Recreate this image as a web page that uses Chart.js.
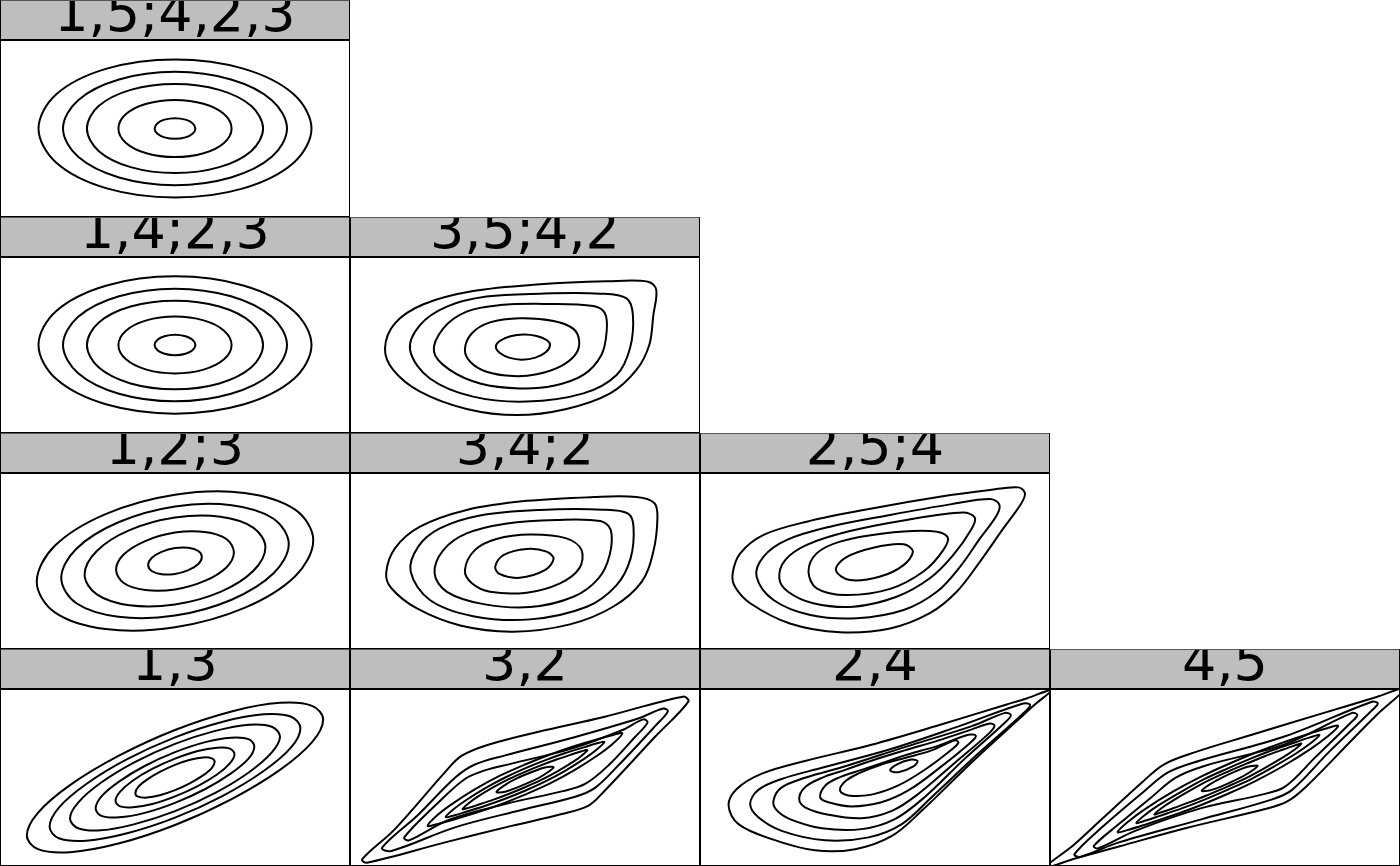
<!DOCTYPE html>
<html>
<head>
<meta charset="utf-8">
<script src="https://cdn.jsdelivr.net/npm/chart.js@4.4.0/dist/chart.umd.min.js"></script>
<style>
html,body{margin:0;padding:0;background:#fff;}
body{width:1400px;height:866px;position:relative;overflow:hidden;font-family:"DejaVu Sans",sans-serif;}
.panel{position:absolute;width:350px;}
.strip{position:absolute;left:0;top:0;width:350px;height:40px;background:#bebebe;overflow:hidden;}
.strip span{position:absolute;left:0;width:350px;text-align:center;top:-14px;font-size:54px;line-height:54px;color:#000;white-space:nowrap;}
.panel canvas{position:absolute;left:0;top:40px;}
.frame{position:absolute;left:0;top:0;right:0;bottom:0;border:1px solid #000;border-top-color:#555;pointer-events:none;}
.sep{position:absolute;left:0;top:39px;width:350px;height:0;border-top:2px solid #000;}
</style>
</head>
<body>
<script>
// ---- panel titles ----
const titles = ["1,5;4,2,3","1,4;2,3","3,5;4,2","1,2;3","3,4;2","2,5;4","1,3","3,2","2,4","4,5"];

// ---- contour lines (normal-score axes, -3..3) ----
const P_15_423 = [
 [[2.34,0],[2.03,1.17],[1.17,2.03],[0,2.34],[-1.17,2.03],[-2.03,1.17],[-2.34,0],[-2.03,-1.17],[-1.17,-2.03],[0,-2.34],[1.17,-2.03],[2.03,-1.17]],
 [[1.92,0],[1.66,0.96],[0.96,1.66],[0,1.92],[-0.96,1.66],[-1.66,0.96],[-1.92,0],[-1.66,-0.96],[-0.96,-1.66],[0,-1.92],[0.96,-1.66],[1.66,-0.96]],
 [[1.51,0],[1.31,0.76],[0.76,1.31],[0,1.51],[-0.76,1.31],[-1.31,0.76],[-1.51,0],[-1.31,-0.76],[-0.76,-1.31],[0,-1.51],[0.76,-1.31],[1.31,-0.76]],
 [[0.97,0],[0.84,0.49],[0.49,0.84],[0,0.97],[-0.49,0.84],[-0.84,0.49],[-0.97,0],[-0.84,-0.49],[-0.49,-0.84],[0,-0.97],[0.49,-0.84],[0.84,-0.49]],
 [[0.35,0],[0.30,0.18],[0.18,0.30],[0,0.35],[-0.18,0.30],[-0.30,0.18],[-0.35,0],[-0.30,-0.18],[-0.18,-0.30],[0,-0.35],[0.18,-0.30],[0.30,-0.18]]
];
const P_14_23 = [
 [[2.34,0],[2.03,1.17],[1.17,2.03],[0,2.34],[-1.17,2.03],[-2.03,1.17],[-2.34,0],[-2.03,-1.17],[-1.17,-2.03],[0,-2.34],[1.17,-2.03],[2.03,-1.17]],
 [[1.92,0],[1.66,0.96],[0.96,1.66],[0,1.92],[-0.96,1.66],[-1.66,0.96],[-1.92,0],[-1.66,-0.96],[-0.96,-1.66],[0,-1.92],[0.96,-1.66],[1.66,-0.96]],
 [[1.51,0],[1.31,0.76],[0.76,1.31],[0,1.51],[-0.76,1.31],[-1.31,0.76],[-1.51,0],[-1.31,-0.76],[-0.76,-1.31],[0,-1.51],[0.76,-1.31],[1.31,-0.76]],
 [[0.97,0],[0.84,0.49],[0.49,0.84],[0,0.97],[-0.49,0.84],[-0.84,0.49],[-0.97,0],[-0.84,-0.49],[-0.49,-0.84],[0,-0.97],[0.49,-0.84],[0.84,-0.49]],
 [[0.35,0],[0.30,0.18],[0.18,0.30],[0,0.35],[-0.18,0.30],[-0.30,0.18],[-0.35,0],[-0.30,-0.18],[-0.18,-0.30],[0,-0.35],[0.18,-0.30],[0.30,-0.18]]
];
const P_35_42 = [
 [[-2.40,-0.11],[-2.23,0.74],[-1.74,1.39],[-0.89,1.84],[0.26,2.07],[1.40,2.17],[2.11,2.16],[2.25,1.88],[2.20,1.02],[2.13,0.0],[1.91,-0.85],[1.46,-1.65],[0.71,-2.18],[-0.14,-2.39],[-1.0,-2.18],[-1.80,-1.59],[-2.26,-0.85]],
 [[-1.97,-0.17],[-1.80,0.68],[-1.34,1.31],[-0.66,1.65],[0.26,1.75],[1.29,1.75],[1.74,1.59],[1.85,1.02],[1.80,-0.11],[1.57,-1.02],[1.00,-1.65],[0.03,-1.93],[-0.89,-1.76],[-1.63,-1.14]],
 [[-1.56,-0.23],[-1.40,0.57],[-1.00,1.14],[-0.43,1.36],[0.37,1.40],[1.17,1.33],[1.37,1.08],[1.40,0.46],[1.31,-0.34],[1.00,-1.02],[0.49,-1.39],[-0.09,-1.48],[-0.77,-1.31],[-1.29,-0.85]],
 [[-1.03,-0.14],[-0.91,0.40],[-0.60,0.77],[-0.09,0.91],[0.49,0.82],[0.83,0.55],[0.93,0.11],[0.86,-0.34],[0.60,-0.74],[0.20,-1.00],[-0.20,-1.06],[-0.66,-0.91],[-0.94,-0.57]],
 [[0.43,0.0],[0.37,0.17],[0.2,0.31],[-0.02,0.36],[-0.25,0.30],[-0.43,0.14],[-0.50,-0.06],[-0.43,-0.27],[-0.26,-0.44],[-0.05,-0.50],[0.18,-0.43],[0.36,-0.24]]
];
const P_12_3 = [
 [[2.37,0.71],[2.06,1.75],[1.19,2.32],[0,2.26],[-1.19,1.60],[-2.06,0.52],[-2.37,-0.71],[-2.06,-1.75],[-1.19,-2.32],[0,-2.26],[1.19,-1.60],[2.06,-0.52]],
 [[1.95,0.58],[1.69,1.44],[0.97,1.90],[0,1.86],[-0.97,1.32],[-1.69,0.42],[-1.95,-0.58],[-1.69,-1.44],[-0.97,-1.90],[0,-1.86],[0.97,-1.32],[1.69,-0.42]],
 [[1.55,0.47],[1.34,1.14],[0.78,1.51],[0,1.48],[-0.78,1.05],[-1.34,0.34],[-1.55,-0.47],[-1.34,-1.14],[-0.78,-1.51],[0,-1.48],[0.78,-1.05],[1.34,-0.34]],
 [[1.01,0.30],[0.88,0.75],[0.51,0.99],[0,0.97],[-0.51,0.68],[-0.88,0.22],[-1.01,-0.30],[-0.88,-0.75],[-0.51,-0.99],[0,-0.97],[0.51,-0.68],[0.88,-0.22]],
 [[0.46,0.14],[0.40,0.34],[0.23,0.45],[0,0.44],[-0.23,0.31],[-0.40,0.10],[-0.46,-0.14],[-0.40,-0.34],[-0.23,-0.45],[0,-0.44],[0.23,-0.31],[0.40,-0.10]]
];
const P_34_2 = [
 [[-2.38,-0.42],[-2.23,0.43],[-1.80,1.17],[-1.0,1.74],[0.03,2.05],[1.17,2.18],[1.91,2.18],[2.22,1.97],[2.27,1.45],[2.20,0.32],[2.0,-0.71],[1.51,-1.56],[0.77,-2.16],[-0.20,-2.41],[-1.11,-2.20],[-1.86,-1.61],[-2.29,-0.93]],
 [[-1.96,-0.36],[-1.83,0.49],[-1.46,1.11],[-0.77,1.55],[0.26,1.74],[1.34,1.75],[1.76,1.62],[1.86,1.17],[1.81,0.09],[1.57,-0.82],[1.06,-1.56],[0.09,-1.99],[-0.89,-1.88],[-1.63,-1.33]],
 [[-1.55,-0.42],[-1.40,0.37],[-1.0,0.94],[-0.31,1.28],[0.54,1.40],[1.29,1.36],[1.47,1.06],[1.45,0.20],[1.26,-0.59],[0.83,-1.22],[0.09,-1.57],[-0.71,-1.47],[-1.34,-1.05]],
 [[-1.03,-0.31],[-0.86,0.37],[-0.49,0.75],[0.09,0.90],[0.71,0.77],[0.97,0.37],[0.93,-0.25],[0.60,-0.76],[0.03,-1.08],[-0.60,-1.05],[-0.91,-0.76]],
 [[-0.51,-0.19],[-0.37,0.20],[0.03,0.41],[0.37,0.32],[0.49,0.07],[0.34,-0.31],[-0.09,-0.57],[-0.43,-0.45]]
];
const P_25_4 = [
 [[-2.44,-0.42],[-2.31,0.26],[-1.91,0.89],[-1.17,1.34],[-0.03,1.80],[1.11,2.19],[1.97,2.42],[2.46,2.51],[2.57,2.31],[2.51,1.97],[2.20,1.11],[1.80,-0.02],[1.40,-1.05],[0.94,-1.78],[0.26,-2.30],[-0.60,-2.43],[-1.46,-2.13],[-2.14,-1.44],[-2.40,-0.88]],
 [[-2.03,-0.53],[-1.91,0.15],[-1.51,0.72],[-0.77,1.17],[0.26,1.57],[1.29,1.93],[1.97,2.11],[2.13,1.93],[2.09,1.57],[1.80,0.77],[1.46,-0.19],[1.06,-1.05],[0.49,-1.67],[-0.31,-1.95],[-1.11,-1.84],[-1.74,-1.33]],
 [[-1.64,-0.59],[-1.54,0.03],[-1.17,0.55],[-0.43,1.02],[0.54,1.40],[1.51,1.65],[1.71,1.48],[1.66,1.11],[1.34,0.20],[0.94,-0.59],[0.37,-1.22],[-0.37,-1.56],[-1.06,-1.44],[-1.49,-1.05]],
 [[-1.14,-0.36],[-1.0,0.26],[-0.60,0.66],[0.14,0.94],[0.94,1.02],[1.24,0.83],[1.17,0.37],[0.83,-0.36],[0.26,-0.95],[-0.49,-1.16],[-1.0,-0.93]],
 [[-0.67,-0.31],[-0.51,0.11],[-0.03,0.45],[0.49,0.57],[0.65,0.32],[0.49,-0.14],[0.09,-0.53],[-0.43,-0.65]]
];
const P_13 = [
 [[2.54,1.97],[2.35,2.43],[1.80,2.53],[0.97,2.24],[0,1.61],[-0.97,0.73],[-1.80,-0.26],[-2.35,-1.20],[-2.54,-1.97],[-2.35,-2.43],[-1.80,-2.53],[-0.97,-2.24],[0,-1.61],[0.97,-0.73],[1.80,0.26],[2.35,1.20]],
 [[2.15,1.67],[1.99,2.06],[1.52,2.14],[0.82,1.89],[0,1.36],[-0.82,0.62],[-1.52,-0.22],[-1.99,-1.02],[-2.15,-1.67],[-1.99,-2.06],[-1.52,-2.14],[-0.82,-1.89],[0,-1.36],[0.82,-0.62],[1.52,0.22],[1.99,1.02]],
 [[1.80,1.39],[1.66,1.72],[1.27,1.79],[0.69,1.58],[0,1.14],[-0.69,0.52],[-1.27,-0.18],[-1.66,-0.85],[-1.80,-1.39],[-1.66,-1.72],[-1.27,-1.79],[-0.69,-1.58],[0,-1.14],[0.69,-0.52],[1.27,0.18],[1.66,0.85]],
 [[1.36,1.05],[1.26,1.30],[0.96,1.35],[0.52,1.20],[0,0.86],[-0.52,0.39],[-0.96,-0.14],[-1.26,-0.64],[-1.36,-1.05],[-1.26,-1.30],[-0.96,-1.35],[-0.52,-1.20],[0,-0.86],[0.52,-0.39],[0.96,0.14],[1.26,0.64]],
 [[1.02,0.79],[0.94,0.98],[0.72,1.01],[0.39,0.90],[0,0.64],[-0.39,0.29],[-0.72,-0.10],[-0.94,-0.48],[-1.02,-0.79],[-0.94,-0.98],[-0.72,-1.01],[-0.39,-0.90],[0,-0.64],[0.39,-0.29],[0.72,0.10],[0.94,0.48]],
 [[0.68,0.53],[0.63,0.65],[0.48,0.68],[0.26,0.60],[0,0.43],[-0.26,0.19],[-0.48,-0.07],[-0.63,-0.32],[-0.68,-0.53],[-0.63,-0.65],[-0.48,-0.68],[-0.26,-0.60],[0,-0.43],[0.26,-0.19],[0.48,0.07],[0.63,0.32]]
];
const P_32 = [
 [[-2.79,-2.77],[-2.23,-1.75],[-1.37,0.18],[-1.09,0.73],[-0.63,1.11],[0.23,1.55],[1.37,2.06],[2.71,2.74],[2.80,2.57],[2.23,1.38],[1.37,-0.44],[1.09,-0.95],[0.63,-1.24],[-0.23,-1.64],[-1.37,-2.20],[-2.71,-2.89]],
 [[-2.45,-2.38],[-1.83,-1.26],[-1.20,-0.01],[-0.86,0.44],[-0.34,0.75],[0.80,1.34],[1.94,2.0],[2.37,2.34],[2.45,2.24],[2.23,1.74],[1.60,0.41],[1.20,-0.35],[0.86,-0.65],[-0.06,-1.10],[-1.20,-1.69],[-2.29,-2.49]],
 [[-2.07,-2.03],[-1.54,-0.95],[-1.03,-0.05],[-0.69,0.24],[-0.23,0.47],[0.80,0.98],[1.66,1.60],[2.03,1.97],[2.10,1.86],[1.89,1.38],[1.43,0.41],[1.03,-0.22],[0.63,-0.47],[-0.34,-0.90],[-1.31,-1.44],[-1.99,-2.13]],
 [[-1.67,-1.64],[-1.51,-1.29],[-1.26,-0.91],[-0.84,-0.38],[-0.42,0.07],[0,0.44],[0.42,0.77],[0.84,1.06],[1.26,1.31],[1.51,1.44],[1.67,1.50],[1.51,1.15],[1.26,0.77],[0.84,0.24],[0.42,-0.21],[0,-0.58],[-0.42,-0.91],[-0.84,-1.20],[-1.26,-1.45],[-1.51,-1.58]],
 [[-1.36,-1.34],[-1.22,-1.07],[-1.02,-0.78],[-0.68,-0.36],[-0.34,0.00],[0,0.31],[0.34,0.58],[0.68,0.82],[1.02,1.03],[1.22,1.15],[1.36,1.20],[1.22,0.93],[1.02,0.64],[0.68,0.22],[0.34,-0.14],[0,-0.45],[-0.34,-0.72],[-0.68,-0.96],[-1.02,-1.17],[-1.22,-1.29]],
 [[-1.07,-1.07],[-0.97,-0.88],[-0.81,-0.65],[-0.54,-0.33],[-0.27,-0.05],[0,0.19],[0.27,0.41],[0.54,0.61],[0.81,0.79],[0.97,0.89],[1.07,0.93],[0.97,0.74],[0.81,0.51],[0.54,0.19],[0.27,-0.09],[0,-0.33],[-0.27,-0.55],[-0.54,-0.75],[-0.81,-0.93],[-0.97,-1.03]],
 [[-0.49,-0.49],[-0.34,-0.25],[-0.15,-0.04],[0.15,0.21],[0.34,0.34],[0.49,0.35],[0.34,0.11],[0.15,-0.10],[-0.15,-0.35],[-0.34,-0.48]]
];
const P_24 = [
 [[-2.51,-0.95],[-2.37,-0.39],[-1.94,0.13],[-1.20,0.56],[-0.06,1.11],[1.09,1.77],[2.23,2.46],[2.6,2.68],[3.03,2.97],[2.75,2.49],[2.51,2.06],[1.66,0.52],[0.80,-1.13],[0.29,-1.98],[-0.34,-2.43],[-1.03,-2.47],[-1.77,-2.09],[-2.34,-1.58]],
 [[-2.14,-0.90],[-2.0,-0.42],[-1.60,-0.05],[-0.91,0.33],[0.23,0.94],[1.37,1.69],[2.54,2.51],[2.66,2.46],[2.54,2.17],[1.77,0.81],[0.97,-0.67],[0.46,-1.58],[-0.11,-2.03],[-0.86,-2.13],[-1.60,-1.81],[-2.0,-1.35]],
 [[-1.74,-0.78],[-1.61,-0.35],[-1.20,-0.01],[-0.51,0.38],[0.51,1.03],[1.66,1.74],[2.23,2.19],[2.33,2.11],[2.22,1.85],[1.54,0.64],[0.86,-0.65],[0.34,-1.41],[-0.23,-1.75],[-0.91,-1.72],[-1.46,-1.41],[-1.69,-1.10]],
 [[-1.30,-0.73],[-1.20,-0.33],[-0.91,-0.01],[-0.51,0.26],[-0.06,0.57],[0.51,0.92],[1.09,1.26],[1.66,1.63],[1.97,1.83],[2.05,1.75],[1.94,1.47],[1.37,0.50],[0.74,-0.56],[0.29,-1.13],[-0.23,-1.38],[-0.80,-1.26],[-1.20,-1.01]],
 [[-0.94,-0.67],[-0.85,-0.27],[-0.63,-0.01],[-0.23,0.26],[0.23,0.56],[0.51,0.75],[1.09,1.08],[1.60,1.45],[1.73,1.41],[1.63,1.17],[1.09,0.30],[0.57,-0.44],[0.11,-0.84],[-0.40,-0.98],[-0.80,-0.84]],
 [[-0.60,-0.44],[-0.51,-0.13],[-0.29,0.13],[0.11,0.44],[0.51,0.66],[0.97,0.92],[1.37,1.26],[1.43,1.18],[1.31,0.94],[0.86,0.27],[0.40,-0.27],[-0.06,-0.58],[-0.46,-0.61]],
 [[0.26,0.24],[0.37,0.44],[0.60,0.60],[0.73,0.56],[0.66,0.38],[0.40,0.18]]
];
const P_45 = [
 [[-3.08,-3.05],[-2.6,-2.30],[-2.11,-1.41],[-1.42,-0.16],[-1.05,0.44],[-0.51,0.86],[0.46,1.45],[1.61,2.14],[2.6,2.73],[3.08,3.02],[2.6,2.12],[2.18,1.28],[1.38,-0.33],[1.06,-0.82],[0.69,-1.07],[-0.68,-1.72],[-1.82,-2.34],[-2.6,-2.76]],
 [[-2.58,-2.60],[-2.11,-1.69],[-1.37,-0.44],[-0.97,0.18],[-0.45,0.56],[1.03,1.40],[2.52,2.57],[2.62,2.51],[2.52,2.28],[1.78,0.86],[1.15,-0.42],[0.81,-0.74],[-0.39,-1.41],[-1.82,-2.20],[-2.48,-2.69]],
 [[-2.25,-2.32],[-1.82,-1.58],[-1.25,-0.65],[-0.85,-0.01],[-0.34,0.40],[1.03,1.13],[2.18,2.19],[2.27,2.11],[2.15,1.85],[1.55,0.69],[1.03,-0.31],[0.63,-0.58],[-0.39,-1.03],[-1.54,-1.81],[-2.17,-2.40]],
 [[-1.84,-1.85],[-1.65,-1.48],[-1.37,-1.07],[-0.90,-0.49],[-0.42,0.02],[0.05,0.45],[0.52,0.84],[1.00,1.19],[1.47,1.50],[1.75,1.67],[1.94,1.75],[1.75,1.38],[1.47,0.97],[1.00,0.39],[0.52,-0.12],[0.05,-0.55],[-0.42,-0.94],[-0.90,-1.29],[-1.37,-1.60],[-1.65,-1.77]],
 [[-1.52,-1.54],[-1.36,-1.25],[-1.13,-0.93],[-0.73,-0.46],[-0.34,-0.04],[0.05,0.31],[0.44,0.64],[0.83,0.94],[1.23,1.21],[1.46,1.36],[1.62,1.44],[1.46,1.15],[1.23,0.83],[0.83,0.36],[0.44,-0.06],[0.05,-0.41],[-0.34,-0.74],[-0.73,-1.04],[-1.13,-1.31],[-1.36,-1.46]],
 [[-1.21,-1.25],[-1.09,-1.04],[-0.90,-0.79],[-0.58,-0.42],[-0.27,-0.09],[0.05,0.20],[0.37,0.47],[0.68,0.72],[1.00,0.95],[1.19,1.08],[1.31,1.15],[1.19,0.94],[1.00,0.69],[0.68,0.32],[0.37,-0.01],[0.05,-0.30],[-0.27,-0.57],[-0.58,-0.82],[-0.90,-1.05],[-1.09,-1.18]],
 [[-0.40,-0.45],[-0.25,-0.22],[-0.06,-0.01],[0.22,0.24],[0.41,0.37],[0.56,0.39],[0.41,0.16],[0.22,-0.05],[-0.06,-0.30],[-0.25,-0.43]]
];

const panelContours = [P_15_423, P_14_23, P_35_42, P_12_3, P_34_2, P_25_4, P_13, P_32, P_24, P_45];

// ---- page layout (grid slots, not data) ----
const slot = [[0,0],[1,0],[1,1],[2,0],[2,1],[2,2],[3,0],[3,1],[3,2],[3,3]];
const rowTop = [0,217,433,649];
const rowH = [217,216,216,217];

function closedRing(ring) {
  // wrap one extra point on each side so the smooth curve closes without a kink
  const n = ring.length;
  const pts = [ring[n-1], ...ring, ring[0], ring[1]];
  return {
    data: pts.map(p => ({x: p[0], y: p[1]})),
    showLine: true,
    borderColor: '#000',
    borderWidth: 2,
    pointRadius: 0,
    pointHoverRadius: 0,
    tension: 0.35,
    fill: false,
    segment: {
      borderColor: ctx => (ctx.p0DataIndex === 0 || ctx.p0DataIndex === n + 1) ? 'rgba(0,0,0,0)' : undefined
    }
  };
}

titles.forEach((title, i) => {
  const [r, c] = slot[i];
  const panel = document.createElement('div');
  panel.className = 'panel';
  panel.style.left = (c * 350) + 'px';
  panel.style.top = rowTop[r] + 'px';
  panel.style.height = rowH[r] + 'px';

  const strip = document.createElement('div');
  strip.className = 'strip';
  const span = document.createElement('span');
  span.textContent = title;
  strip.appendChild(span);
  panel.appendChild(strip);

  const canvas = document.createElement('canvas');
  const h = rowH[r] - 40;
  canvas.width = 350; canvas.height = h;
  canvas.style.width = '350px'; canvas.style.height = h + 'px';
  panel.appendChild(canvas);

  const sep = document.createElement('div'); sep.className = 'sep'; panel.appendChild(sep);
  const frame = document.createElement('div'); frame.className = 'frame'; panel.appendChild(frame);
  document.body.appendChild(panel);

  new Chart(canvas, {
    type: 'scatter',
    data: { datasets: panelContours[i].map(closedRing) },
    options: {
      responsive: false,
      animation: false,
      events: [],
      devicePixelRatio: 1,
      layout: { padding: 0 },
      plugins: { legend: { display: false }, tooltip: { enabled: false }, title: { display: false } },
      elements: { line: { capBezierPoints: false } },
      scales: {
        x: { type: 'linear', min: -3, max: 3, display: false },
        y: { type: 'linear', min: -3, max: 3, display: false }
      }
    }
  });
});
</script>
</body>
</html>
